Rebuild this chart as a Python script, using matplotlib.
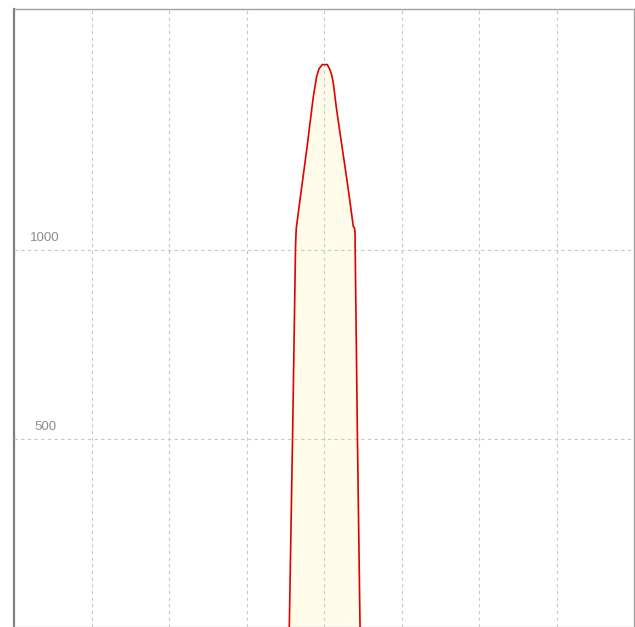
import matplotlib
matplotlib.use("Agg")
from matplotlib import pyplot as plt

# curve (x in grid units, y in value units)
curve_x = [3.552, 3.596, 3.632, 3.639, 3.643, 3.690, 3.777, 3.862, 3.906, 3.935,
           3.978, 4.043, 4.077, 4.100, 4.120, 4.160, 4.206, 4.260, 4.314, 4.378,
           4.394, 4.400, 4.430, 4.465]
curve_y = [0, 524, 1000, 1045, 1058, 1132, 1265, 1405, 1459, 1479,
           1490, 1490, 1476, 1462, 1441, 1375, 1310, 1235, 1159, 1062,
           1058, 1045, 524, 0]

x_grid = [1, 2, 3, 4, 5, 6, 7]
y_grid = [500, 1000]
y_labels = ["500", "1000"]

plt.rcParams["font.family"] = ["Liberation Sans", "DejaVu Sans"]

fig = plt.figure(figsize=(6.35, 6.27), dpi=100)
ax = fig.add_axes([14 / 635, 0.0, 620 / 635, 618 / 627])

ax.fill_between(curve_x, curve_y, 0, color="#fffdea", zorder=1)
ax.plot(curve_x, curve_y, color="#e00000", lw=1.2, zorder=3)

ax.set_xlim(0, 8)
ax.set_ylim(2.6, 1637)
ax.set_xticks(x_grid)
ax.set_yticks(y_grid)
ax.tick_params(length=0, labelbottom=False, labelleft=False)
ax.grid(True, color="#c8c8c8", ls=(0, (3, 3)), lw=0.8, zorder=2)
ax.set_axisbelow(False)

for val, lab in zip(y_grid, y_labels):
    ax.text(0.40, val + 15, lab, ha="center", va="bottom",
            fontsize=9.5, color="#8c8c8c")

for side in ["top", "right"]:
    ax.spines[side].set_color("#a0a0a0")
    ax.spines[side].set_linewidth(1.0)
ax.spines["left"].set_color("#808080")
ax.spines["left"].set_linewidth(1.6)
ax.spines["bottom"].set_color("#d8d8d8")
ax.spines["bottom"].set_linewidth(1.0)

fig.savefig("out.png", dpi=100)
